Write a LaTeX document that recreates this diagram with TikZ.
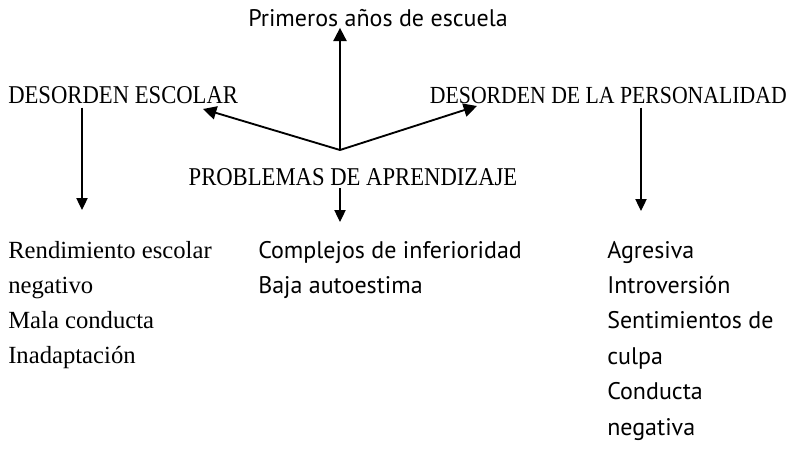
\documentclass[tikz,border=0pt]{standalone}
\usepackage{fontspec}
\setmainfont{Liberation Serif}
\newfontfamily\listfont{PT Sans}
\usetikzlibrary{arrows.meta}
\newcommand{\alto}[1]{\scalebox{1}[1.13]{#1}}

\begin{document}
\begin{tikzpicture}[x=0.75pt, y=-0.75pt,
        caps/.style = {inner sep=0pt, font=\fontsize{17}{20}\selectfont},
        item/.style = {inner sep=0pt, anchor=base west, font=\listfont\fontsize{18}{20}\selectfont},
        itemserif/.style = {item, font=\fontsize{18.5}{20}\selectfont},
        arr/.style = {-{Triangle[length=10pt, width=10pt]}, line width=1.4pt},
        down/.style = {-{Triangle[length=9pt, width=8.5pt]}, line width=0.9pt}]
    \useasboundingbox (0, 0) rectangle (797, 461);
    % titulos
    \node[item, anchor=base] (anios) at (378, 26) {Primeros años de escuela};
    \node[caps, anchor=base west] (escolar) at (8, 103) {\alto{DESORDEN ESCOLAR}};
    \node[caps, anchor=base east, font=\fontsize{16.3}{20}\selectfont] (personal) at (787, 103) {\alto{DESORDEN DE LA PERSONALIDAD}};
    \node[caps, anchor=base] (problemas) at (353, 185) {\alto{PROBLEMAS DE APRENDIZAJE}};
    % puntas de flecha
    \coordinate (hub) at (340, 150);
    \coordinate (escTip) at (203, 109);
    \coordinate (perTip) at (477, 106);
    \coordinate (izqTip) at (82, 210);
    \coordinate (medTip) at (340, 222);
    \coordinate (derTip) at (641, 211);
    % flechas
    \draw[arr, shorten >=1pt] (hub) -- (hub |- anios.south);
    \draw[arr] (hub) -- (escTip);
    \draw[arr] (hub) -- (perTip);
    \draw[down, shorten <=3pt] (izqTip |- escolar.south) -- (izqTip);
    \draw[down, shorten <=3pt] (derTip |- personal.south) -- (derTip);
    \draw[down, shorten <=2pt] (hub |- problemas.south) -- (medTip);
    % listas
    \foreach \t [count=\i from 0] in {Rendimiento escolar, negativo, Mala conducta, Inadaptación}
        \node[itemserif] (izq\i) at (8, {258+35*\i}) {\t};
    \foreach \t [count=\i from 0] in {Complejos de inferioridad, Baja autoestima}
        \node[item] (med\i) at (258, {258+35*\i}) {\t};
    \foreach \t [count=\i from 0] in {Agresiva, Introversión, Sentimientos de, culpa, Conducta, negativa}
        \node[item] (der\i) at (607, {258+35.4*\i}) {\t};
\end{tikzpicture}
\end{document}
